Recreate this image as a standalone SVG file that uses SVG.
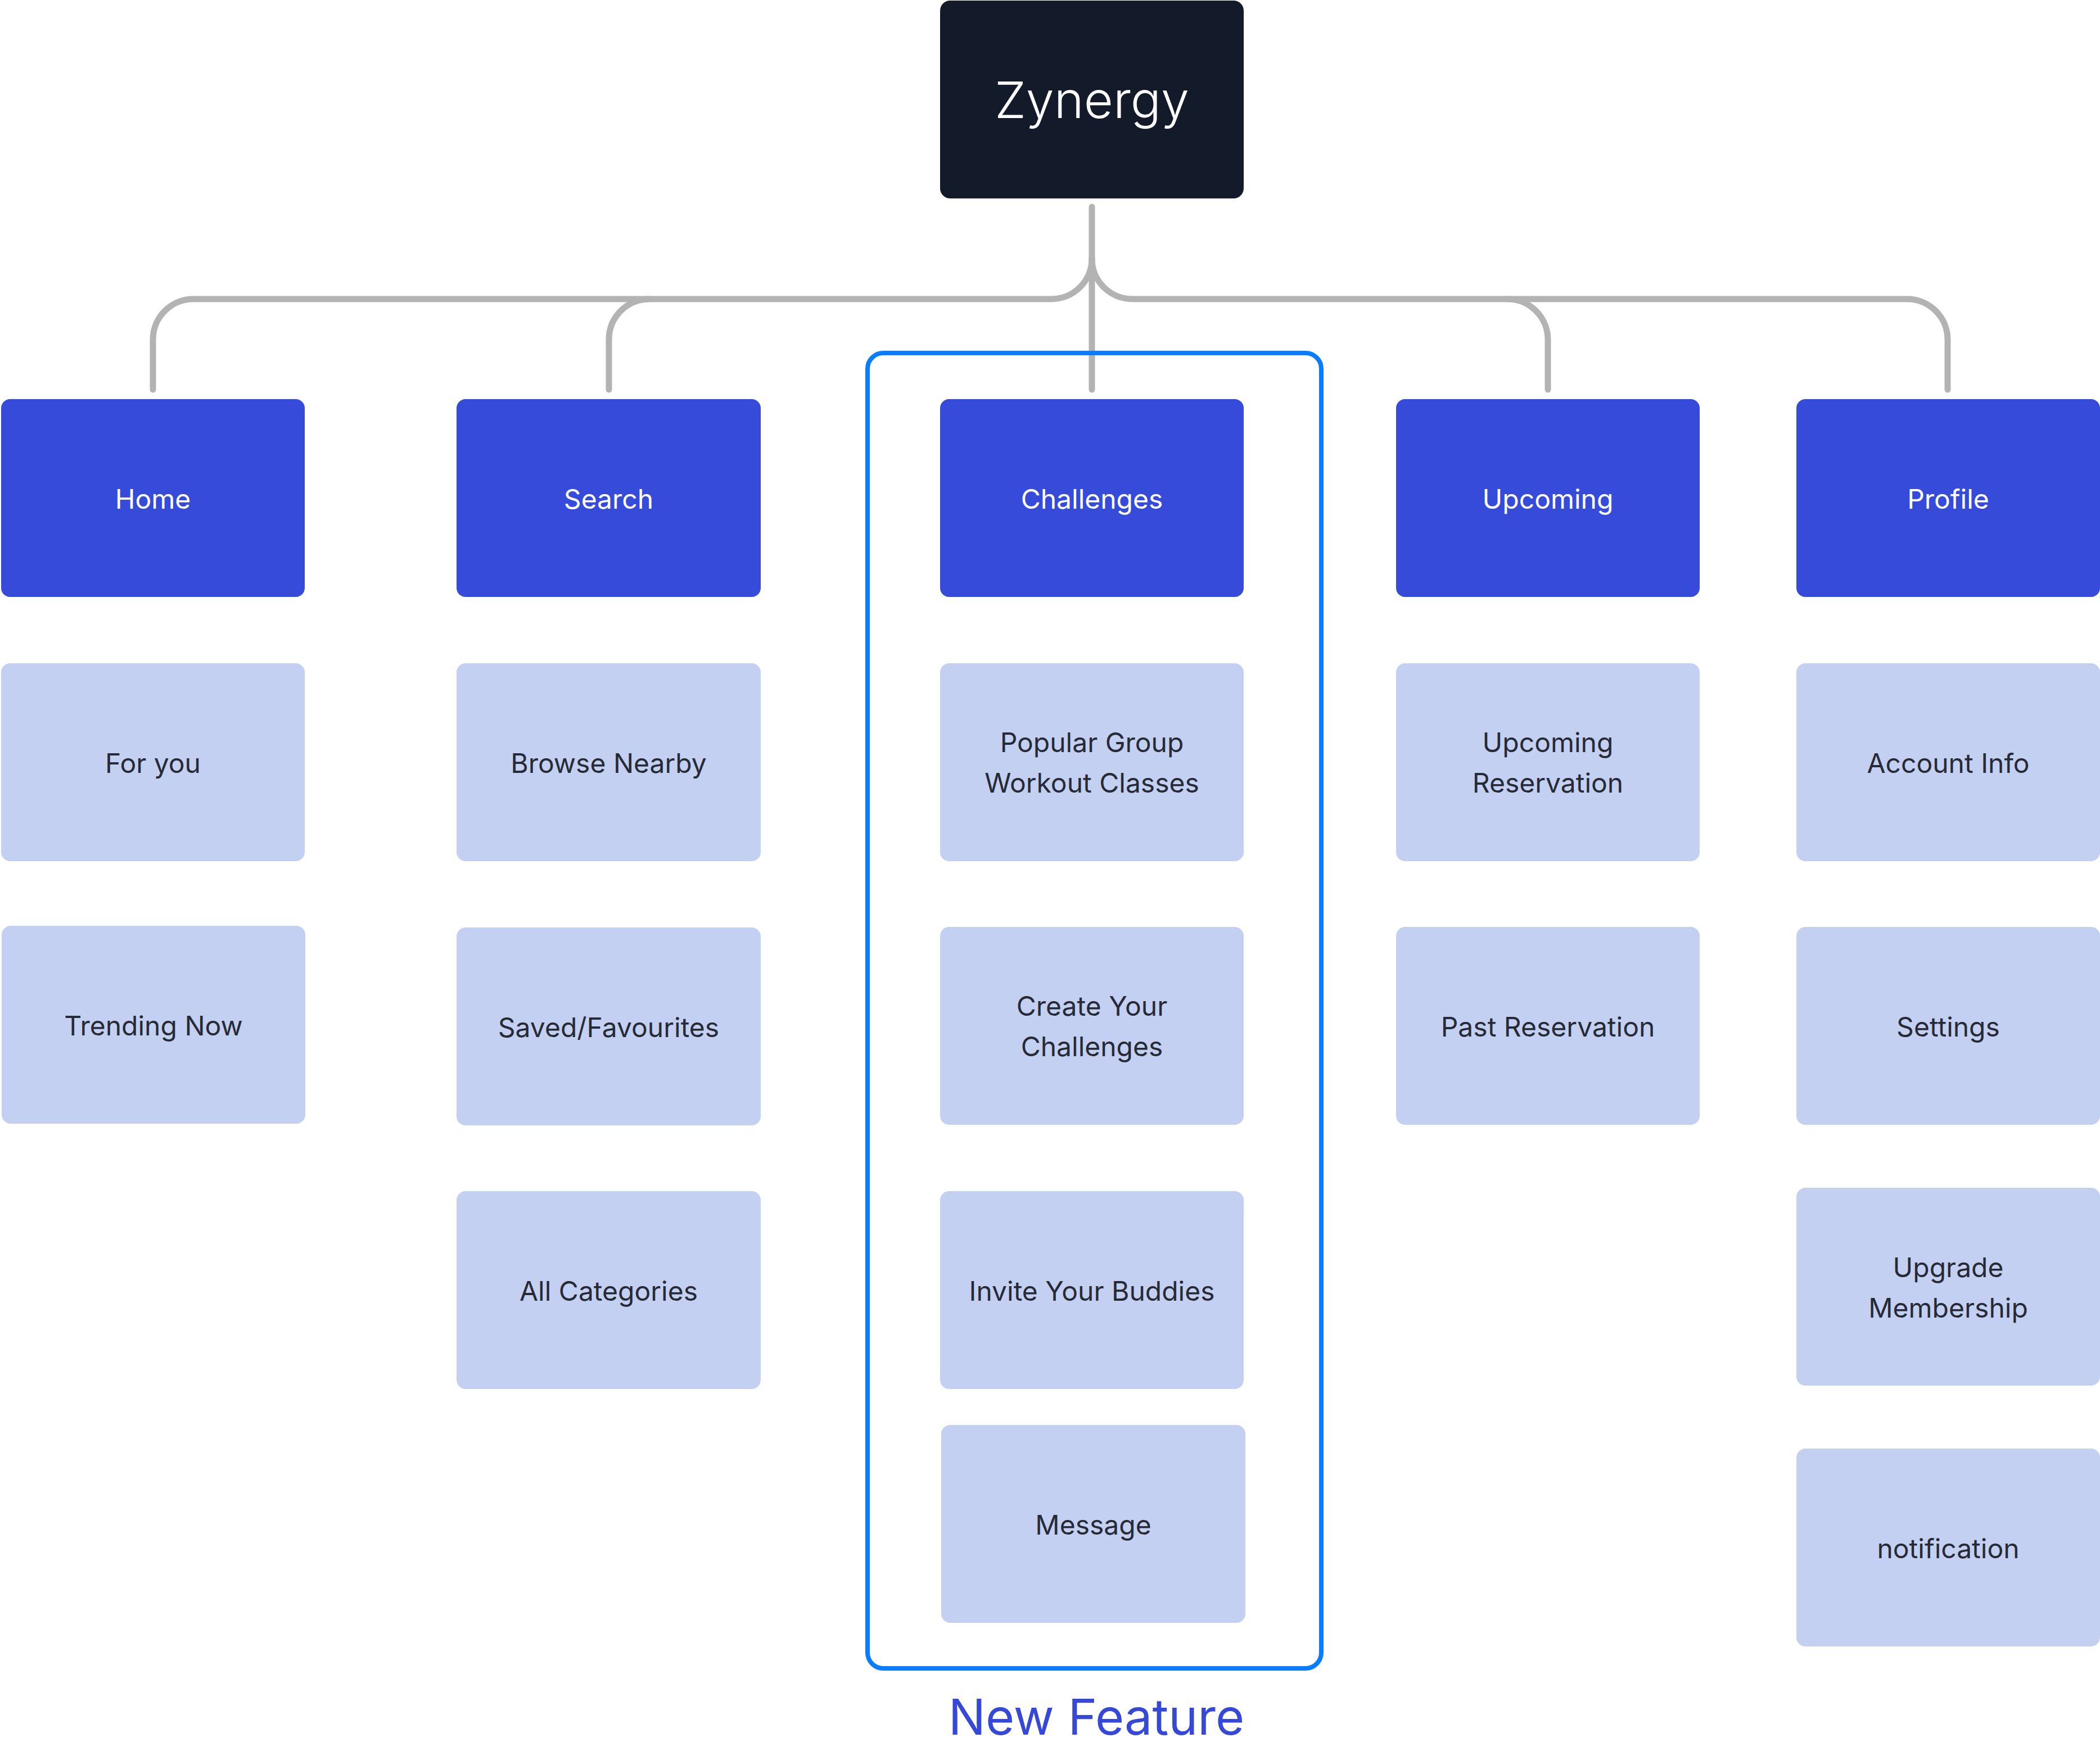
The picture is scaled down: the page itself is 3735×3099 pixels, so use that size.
<svg xmlns="http://www.w3.org/2000/svg" width="3735" height="3099" viewBox="0 0 3735 3099">
<style>
.bg{fill:#ffffff}
.root{fill:#131a2a}
.main{fill:#364bd9}
.sub{fill:#c3d0f2}
.t{font-family:Inter,"Noto Sans","Liberation Sans",sans-serif;font-size:48px;text-anchor:middle}
.tw{fill:#ffffff}
.td{fill:#262a35}
.conn{fill:none;stroke:#b3b3b3;stroke-width:11;stroke-linecap:round;stroke-linejoin:round}
.frame{fill:none;stroke:#0a7cff;stroke-width:8}
</style>
<rect class="bg" x="0" y="0" width="3735" height="3099"/>
<g id="connectors">
<path class="conn" d="M1942,368 V693"/>
<path class="conn" d="M272,693 V604 A72,72 0 0 1 344,532 H1870 A72,72 0 0 0 1942,460"/>
<path class="conn" d="M3464,693 V604 A72,72 0 0 0 3392,532 H2014 A72,72 0 0 1 1942,460"/>
<path class="conn" d="M1154,532 A72,72 0 0 0 1083,604 V693"/>
<path class="conn" d="M2681,532 A72,72 0 0 1 2753,604 V693"/>
</g>
<g id="new-feature">
<rect class="frame" x="1543" y="628" width="807" height="2340" rx="28"/>
<text x="1950" y="3086" style="font-family:Inter,'Noto Sans','Liberation Sans',sans-serif;font-size:88px;fill:#3548d8;text-anchor:middle">New Feature</text>
</g>
<g id="zynergy">
<rect class="root" x="1672" y="1" width="540" height="352" rx="18"/>
<text x="1942" y="210" style="font-family:Inter,'Noto Sans','Liberation Sans',sans-serif;font-size:90px;font-weight:300;fill:#ffffff;text-anchor:middle">Zynergy</text>
</g>
<g id="home"><rect class="main" x="2" y="710" width="540" height="352" rx="16"/><text class="t tw" x="272" y="905">Home</text></g>
<g id="search"><rect class="main" x="812" y="710" width="541" height="352" rx="16"/><text class="t tw" x="1082.5" y="905">Search</text></g>
<g id="challenges"><rect class="main" x="1672" y="710" width="540" height="352" rx="16"/><text class="t tw" x="1942" y="905">Challenges</text></g>
<g id="upcoming"><rect class="main" x="2483" y="710" width="540" height="352" rx="16"/><text class="t tw" x="2753" y="905">Upcoming</text></g>
<g id="profile"><rect class="main" x="3195" y="710" width="540" height="352" rx="16"/><text class="t tw" x="3465" y="905">Profile</text></g>

<g id="for-you"><rect class="sub" x="2" y="1180" width="540" height="352" rx="16"/><text class="t td" x="272" y="1375">For you</text></g>
<g id="trending-now"><rect class="sub" x="3" y="1647" width="540" height="352" rx="16"/><text class="t td" x="273" y="1842">Trending Now</text></g>

<g id="browse-nearby"><rect class="sub" x="812" y="1180" width="541" height="352" rx="16"/><text class="t td" x="1082.5" y="1375">Browse Nearby</text></g>
<g id="saved-favourites"><rect class="sub" x="812" y="1650" width="541" height="352" rx="16"/><text class="t td" x="1082.5" y="1845">Saved/Favourites</text></g>
<g id="all-categories"><rect class="sub" x="812" y="2119" width="541" height="352" rx="16"/><text class="t td" x="1082.5" y="2314">All Categories</text></g>

<g id="popular-group"><rect class="sub" x="1672" y="1180" width="540" height="352" rx="16"/><text class="t td" x="1942" y="1338">Popular Group</text><text class="t td" x="1942" y="1410">Workout Classes</text></g>
<g id="create-challenges"><rect class="sub" x="1672" y="1649" width="540" height="352" rx="16"/><text class="t td" x="1942" y="1807">Create Your</text><text class="t td" x="1942" y="1879">Challenges</text></g>
<g id="invite-buddies"><rect class="sub" x="1672" y="2119" width="540" height="352" rx="16"/><text class="t td" x="1942" y="2314">Invite Your Buddies</text></g>
<g id="message"><rect class="sub" x="1674" y="2535" width="541" height="352" rx="16"/><text class="t td" x="1944.5" y="2730">Message</text></g>

<g id="upcoming-reservation"><rect class="sub" x="2483" y="1180" width="540" height="352" rx="16"/><text class="t td" x="2753" y="1338">Upcoming</text><text class="t td" x="2753" y="1410">Reservation</text></g>
<g id="past-reservation"><rect class="sub" x="2483" y="1649" width="540" height="352" rx="16"/><text class="t td" x="2753" y="1844">Past Reservation</text></g>

<g id="account-info"><rect class="sub" x="3195" y="1180" width="540" height="352" rx="16"/><text class="t td" x="3465" y="1375">Account Info</text></g>
<g id="settings"><rect class="sub" x="3195" y="1649" width="540" height="352" rx="16"/><text class="t td" x="3465" y="1844">Settings</text></g>
<g id="upgrade-membership"><rect class="sub" x="3195" y="2113" width="540" height="352" rx="16"/><text class="t td" x="3465" y="2272">Upgrade</text><text class="t td" x="3465" y="2344">Membership</text></g>
<g id="notification"><rect class="sub" x="3195" y="2577" width="540" height="352" rx="16"/><text class="t td" x="3465" y="2772">notification</text></g>
</svg>
